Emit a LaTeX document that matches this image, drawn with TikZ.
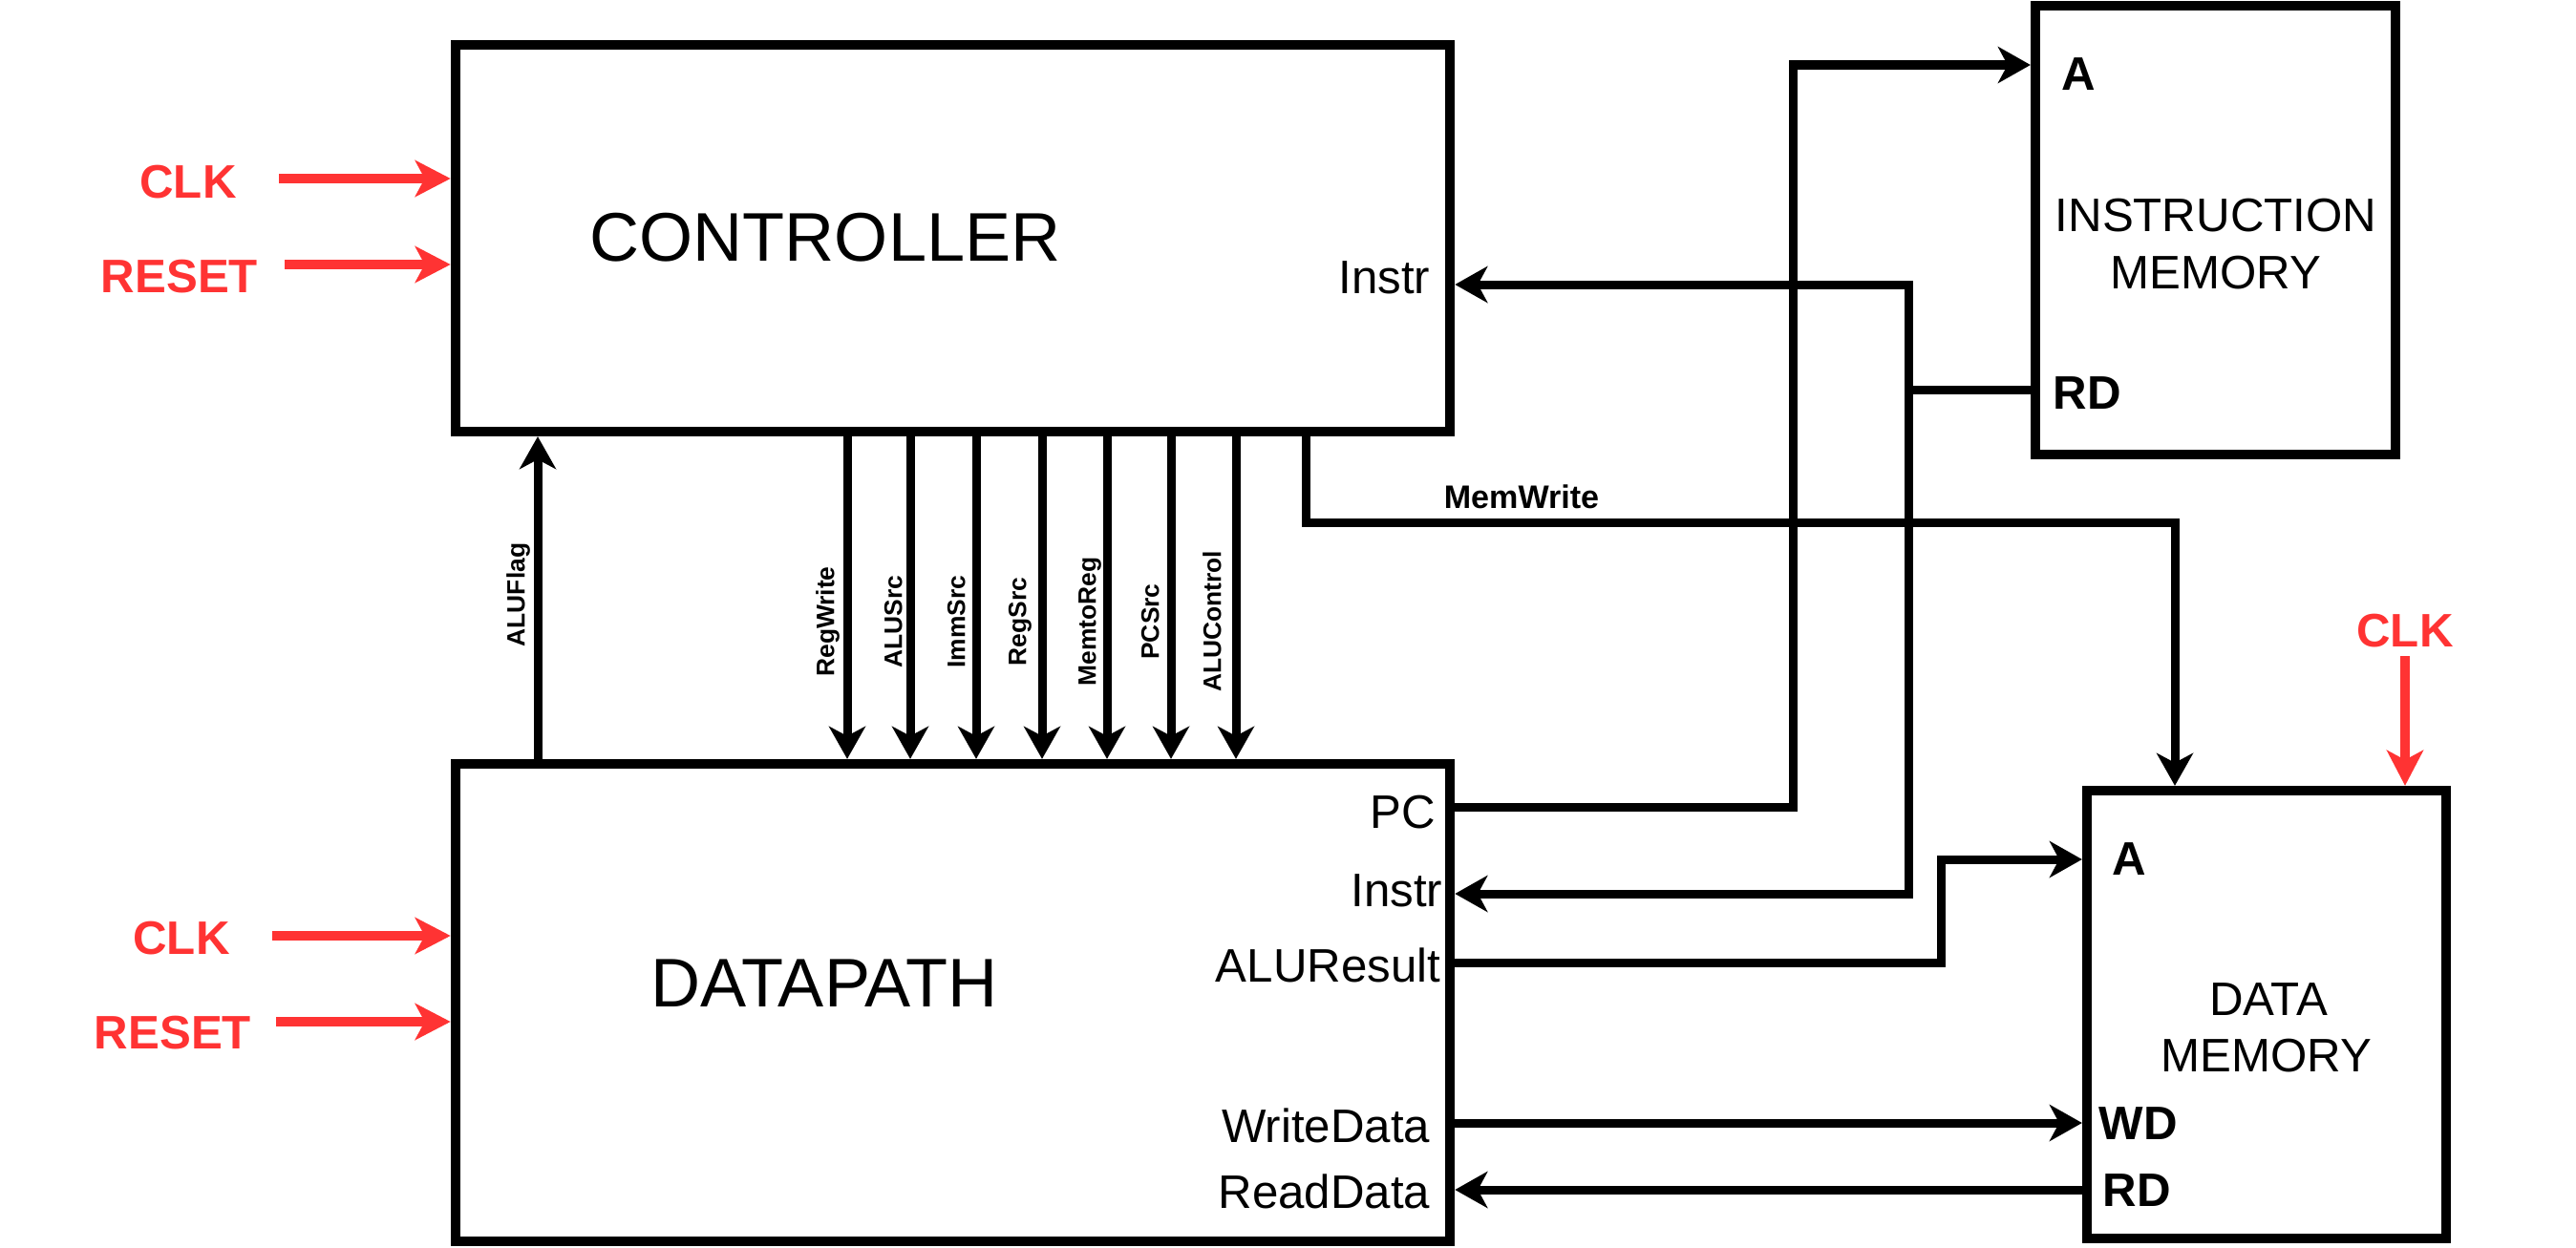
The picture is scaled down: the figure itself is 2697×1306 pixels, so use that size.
\documentclass[tikz,border=0pt]{standalone}
\usepackage{fontspec}
\setmainfont{Liberation Sans}
\usetikzlibrary{arrows.meta}
\definecolor{sigred}{RGB}{255,51,51}
\begin{document}
\begin{tikzpicture}[x=0.01cm,y=-0.01cm,
  box/.style={draw, line width=1mm, inner sep=0pt, outer sep=0.5mm},
  conn/.style={line width=0.9mm},
  arr/.style={conn, -{Stealth[length=3.4mm,width=3.8mm,inset=1mm]}},
  dblarr/.style={conn, {Stealth[length=3.4mm,width=3.8mm,inset=1mm]}-{Stealth[length=3.4mm,width=3.8mm,inset=1mm]}},
  redarr/.style={draw=sigred, line width=1mm, -{Stealth[length=3.7mm,width=3.8mm,inset=1mm]}},
  txt/.style={inner sep=0pt, text depth=0pt},
  title/.style={txt, text height=14.68pt, font=\fontsize{20.5}{24}\selectfont},
  port/.style={txt, text height=10.02pt, font=\fontsize{14}{17}\selectfont},
  bport/.style={txt, text height=10.02pt, font=\fontsize{14}{17}\selectfont\bfseries},
  redlbl/.style={txt, text height=10.02pt, text=sigred, font=\fontsize{14}{17}\selectfont\bfseries},
  sig/.style={txt, text height=5.37pt, rotate=90, font=\fontsize{7.5}{9}\selectfont\bfseries},
]
\useasboundingbox (0,0) rectangle (2697,1306);

% blocks
\node[box, minimum width=10.41cm, minimum height=4.05cm] (ctrl) at (997.5,249.5) {};
\node[box, minimum width=10.41cm, minimum height=5.00cm] (dp) at (997.5,1050) {};
\node[box, minimum width=3.77cm, minimum height=4.70cm] (imem) at (2319.5,241) {};
\node[box, minimum width=3.76cm, minimum height=4.69cm] (dmem) at (2373,1062.5) {};

% titles
\node[title] (ctrlT) at (864,248) {CONTROLLER};
\node[title] (dpT) at (863,1029) {DATAPATH};
\node[port] (imemT1) at (2320,225) {INSTRUCTION};
\node[port] (imemT2) at (2320,285) {MEMORY};
\node[port] (dmemT1) at (2375,1046) {DATA};
\node[port] (dmemT2) at (2373,1105) {MEMORY};

% port labels
\node[port, anchor=east] (ctrlInstr) at (1498,290) {Instr};
\node[port, anchor=east] (dpPC) at (1504,850) {PC};
\node[port, anchor=east] (dpInstr) at (1511,932) {Instr};
\node[port, anchor=east] (dpALU) at (1509,1011) {ALUResult};
\node[port, anchor=east] (dpWD) at (1498,1179) {WriteData};
\node[port, anchor=east] (dpRD) at (1498,1248) {ReadData};
\node[bport, anchor=west] (imA) at (2158,77) {A};
\node[bport, anchor=west] (imRD) at (2149,411) {RD};
\node[bport, anchor=west] (dmA) at (2211,899) {A};
\node[bport, anchor=west] (dmWD) at (2197,1176) {WD};
\node[bport, anchor=west] (dmRD) at (2201,1246) {RD};

% clock / reset
\node[redlbl] (clk1) at (197,190) {CLK};
\node[redlbl] (rst1) at (188,289) {RESET};
\node[redlbl] (clk2) at (190,982) {CLK};
\node[redlbl] (rst2) at (181,1081) {RESET};
\node[redlbl] (clk3) at (2518,660) {CLK};
\coordinate (clk1s) at (292,187);
\coordinate (rst1s) at (298,277);
\coordinate (clk2s) at (285,980);
\coordinate (rst2s) at (289,1070);
\coordinate (clk3s) at (2518,687);
\draw[redarr] (clk1s) -- (ctrl.west |- clk1s);
\draw[redarr] (rst1s) -- (ctrl.west |- rst1s);
\draw[redarr] (clk2s) -- (dp.west |- clk2s);
\draw[redarr] (rst2s) -- (dp.west |- rst2s);
\draw[redarr] (clk3s) -- (dmem.north -| clk3s);

% ALUFlag
\draw[arr] (dp.north -| 563,0) -- (ctrl.south -| 563,0);
\node[sig] (sALUFlag) at (540,623) {ALUFlag};

% control signals
\foreach \xx/\lx/\name in {887/864/RegWrite, 953/935/ALUSrc, 1022/1001/ImmSrc, 1091/1065/RegSrc, 1159/1138/MemtoReg, 1226/1204/PCSrc, 1294/1269/ALUControl}{
  \draw[arr] (ctrl.south -| \xx,0) -- (dp.north -| \xx,0);
  \node[sig] (s\name) at (\lx,651) {\name};
}

% MemWrite
\draw[arr] (ctrl.south -| 1367,0) -- (1367,547) -- (2277,547) -- (dmem.north -| 2277,0);
\node[txt, text height=6.95pt, font=\fontsize{9.7}{11}\selectfont\bfseries] (sMemWrite) at (1593,520) {MemWrite};

% PC -> instruction memory A
\draw[arr] (dp.east |- 0,845) -- (1877,845) -- (1877,68) -- (imem.west |- 0,68);

% Instruction memory RD -> Instr (controller and datapath)
\coordinate (jInstr) at (1998,408);
\draw[conn] (imem.west |- jInstr) -- (jInstr);
\draw[dblarr] (ctrl.east |- 0,298) -- (1998,298) -- (1998,936) -- (dp.east |- 0,936);

% ALUResult -> data memory A
\draw[arr] (dp.east |- 0,1008) -- (2032,1008) -- (2032,900) -- (dmem.west |- 0,900);

% WriteData / ReadData
\draw[arr] (dp.east |- 0,1176) -- (dmem.west |- 0,1176);
\draw[arr] (dmem.west |- 0,1246) -- (dp.east |- 0,1246);
\end{tikzpicture}
\end{document}
